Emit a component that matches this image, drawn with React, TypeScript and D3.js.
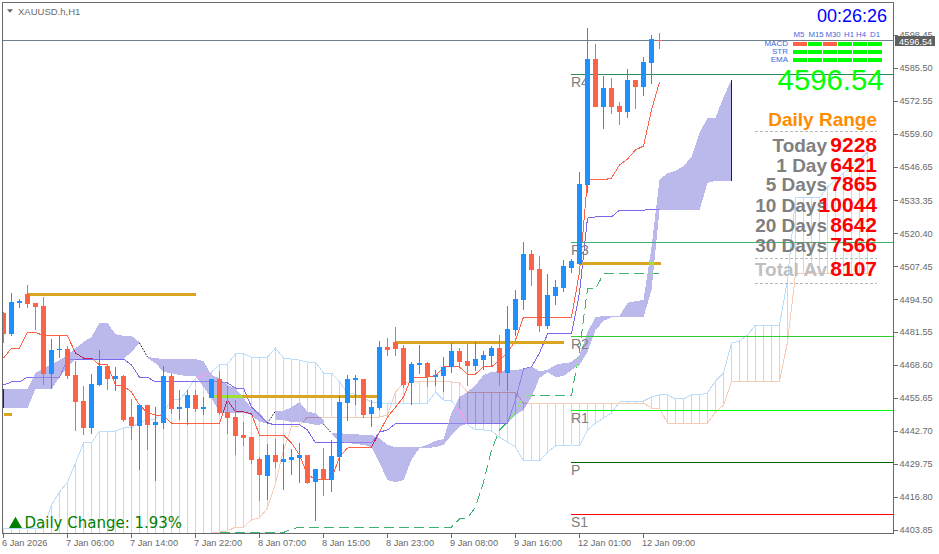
import React, { useEffect, useRef } from 'react';
import * as d3 from 'd3';

const WIDTH = 939;
const HEIGHT = 554;

const opens = [4489.2,4480.9,4493.3,4496.7,4493.3,4492.0,4465.2,4474.7,4475.0,4464.8,4454.6,4444.0,4460.9,4468.4,4463.2,4464.4,4448.3,4444.8,4453.0,4445.2,4445.9,4464.4,4451.5,4451.9,4457.0,4451.5,4455.8,4463.2,4450.3,4448.3,4441.2,4440.4,4431.8,4425.1,4433.4,4430.6,4431.4,4432.2,4433.4,4422.7,4427.8,4423.5,4432.6,4453.8,4462.9,4463.2,4449.5,4451.9,4475.8,4477.8,4475.4,4461.7,4468.8,4469.5,4464.0,4464.4,4468.0,4474.3,4470.3,4468.4,4470.7,4472.3,4475.4,4465.6,4482.5,4494.3,4512.4,4506.5,4484.1,4495.9,4499.0,4506.9,4508.5,4539.6,4589.2,4570.3,4577.8,4570.7,4568.3,4580.9,4578.1,4587.6,4596.8];
const closes = [4480.9,4493.5,4494.0,4492.8,4491.6,4465.2,4474.7,4475.0,4464.4,4454.2,4444.0,4461.3,4468.4,4463.2,4464.4,4447.1,4444.8,4453.0,4445.2,4446.3,4464.4,4451.5,4452.2,4457.0,4451.5,4452.2,4463.2,4449.9,4447.9,4440.8,4440.0,4431.4,4425.5,4433.4,4430.6,4431.8,4432.6,4433.4,4422.3,4427.8,4423.5,4432.9,4454.2,4463.2,4463.6,4449.1,4452.2,4475.8,4474.7,4475.0,4460.9,4469.2,4469.5,4464.0,4464.8,4468.0,4474.3,4469.9,4468.4,4471.1,4472.7,4475.4,4465.6,4482.9,4494.7,4512.4,4506.1,4484.1,4496.3,4499.4,4507.7,4509.7,4540.0,4589.2,4570.3,4577.8,4570.3,4568.3,4580.9,4578.1,4588.0,4597.0,4596.5];
const highs = [4489.6,4497.2,4494.7,4500.4,4493.3,4495.4,4479.0,4480.6,4476.2,4470.3,4460.5,4465.2,4474.7,4468.8,4468.0,4464.8,4455.4,4453.0,4453.0,4452.2,4468.4,4465.6,4458.9,4458.9,4458.9,4456.2,4463.2,4466.4,4460.5,4455.0,4446.3,4440.4,4432.6,4437.7,4439.6,4437.7,4435.7,4438.1,4433.4,4427.8,4436.1,4439.3,4456.6,4464.8,4464.8,4463.2,4455.0,4478.2,4479.4,4483.7,4476.6,4469.9,4476.6,4469.9,4466.8,4471.9,4477.4,4475.4,4477.0,4477.8,4474.3,4476.2,4480.6,4492.0,4498.3,4517.2,4514.0,4511.6,4504.6,4502.2,4510.1,4510.5,4544.7,4601.4,4595.1,4582.5,4581.7,4572.2,4585.2,4580.9,4590.0,4598.6,4599.4];
const lows = [4477.4,4480.2,4491.2,4491.2,4482.5,4460.9,4459.3,4471.5,4463.2,4442.8,4441.2,4441.6,4460.5,4458.9,4458.5,4446.3,4439.3,4427.5,4435.3,4423.1,4443.6,4449.5,4447.1,4445.2,4450.3,4449.1,4455.8,4449.1,4441.6,4433.4,4436.9,4429.8,4415.3,4415.7,4428.2,4419.6,4425.5,4422.3,4421.9,4407.4,4417.2,4418.8,4427.1,4446.7,4453.0,4447.9,4444.4,4451.1,4472.3,4472.3,4459.7,4453.0,4465.2,4460.1,4460.5,4458.1,4465.6,4468.0,4460.5,4466.4,4466.8,4468.4,4460.5,4458.5,4480.2,4490.4,4499.8,4481.7,4482.9,4492.4,4497.5,4505.0,4508.1,4536.4,4570.3,4561.6,4567.5,4563.2,4565.9,4569.5,4574.6,4579.3,4593.1];

const tenkan = [4471.5,4475.4,4475.4,4481.7,4481.7,4480.2,4480.2,4480.2,4480.2,4473.5,4471.5,4471.5,4468.8,4468.8,4460.9,4460.5,4458.1,4453.0,4449.9,4449.1,4448.7,4445.9,4445.9,4445.9,4445.9,4445.9,4445.9,4445.9,4455.0,4450.3,4450.3,4449.5,4441.2,4441.2,4441.2,4441.2,4438.1,4433.4,4425.5,4423.9,4423.9,4423.9,4432.6,4436.1,4436.5,4436.5,4436.5,4442.4,4448.3,4452.2,4456.2,4464.0,4464.0,4464.0,4464.4,4468.0,4468.0,4468.0,4465.2,4465.2,4468.0,4468.0,4470.7,4473.5,4478.6,4487.6,4487.6,4487.6,4487.6,4487.6,4487.6,4487.6,4505.3,4541.6,4541.6,4541.6,4542.3,4547.5,4549.8,4553.4,4554.9,4569.1,4580.1];
const kijun = [4460.9,4462.1,4462.1,4464.0,4464.0,4464.0,4464.0,4464.0,4471.1,4471.1,4471.1,4471.1,4471.1,4471.1,4471.1,4471.1,4468.8,4464.0,4464.0,4462.1,4462.1,4462.1,4462.1,4462.1,4462.1,4462.1,4462.1,4462.1,4461.7,4459.7,4459.7,4452.2,4449.1,4445.9,4445.2,4445.2,4445.2,4445.2,4443.2,4438.1,4438.1,4438.1,4438.1,4438.1,4438.1,4438.1,4438.1,4442.4,4443.2,4445.7,4445.7,4445.7,4445.7,4445.7,4445.7,4445.7,4445.7,4445.7,4445.7,4445.7,4445.7,4445.7,4445.7,4445.7,4455.0,4467.2,4468.0,4473.5,4481.0,4481.0,4481.0,4481.0,4497.1,4526.6,4527.0,4527.0,4527.0,4529.7,4529.7,4529.7,4529.7,4530.1,4530.1];
const senkouA = [4404.6,4404.6,4404.6,4404.6,4404.6,4404.6,4413.7,4418.8,4422.7,4430.2,4438.1,4438.1,4442.8,4442.8,4442.8,4444.0,4444.0,4446.3,4447.1,4447.5,4450.3,4455.0,4455.0,4458.9,4463.6,4464.8,4466.0,4468.8,4469.2,4473.1,4473.1,4471.9,4471.9,4471.9,4475.4,4471.5,4471.1,4470.7,4469.9,4469.9,4465.6,4465.6,4462.1,4457.7,4457.3,4455.8,4454.2,4453.8,4453.8,4453.8,4453.8,4453.8,4453.8,4453.8,4458.1,4455.0,4454.6,4451.1,4445.2,4443.2,4443.2,4442.8,4440.4,4438.5,4436.5,4431.0,4431.0,4431.0,4434.5,4436.9,4436.9,4437.3,4436.9,4443.2,4445.9,4447.9,4449.9,4454.2,4454.6,4454.6,4454.6,4456.2,4457.0,4457.0,4455.4,4455.4,4457.0,4457.0,4457.8,4462.5,4465.6,4477.4,4478.2,4480.6,4484.5,4484.5,4484.5,4484.5,4502.2,4534.5,4534.5,4534.5,4534.5,4538.8,4541.6,4544.3,4546.7,4549.4,4552.6];
const senkouB = [4399.0,4399.0,4399.0,4399.0,4399.0,4399.0,4399.0,4399.0,4399.0,4399.0,4399.0,4399.0,4399.0,4399.0,4399.0,4399.0,4399.0,4399.0,4399.0,4399.0,4399.0,4399.0,4399.0,4399.0,4399.0,4399.0,4403.0,4403.0,4403.5,4405.0,4405.0,4407.8,4408.6,4412.5,4422.3,4435.3,4444.4,4444.8,4448.3,4448.3,4448.3,4448.3,4448.3,4448.3,4448.3,4448.3,4448.3,4448.3,4449.1,4458.1,4461.7,4462.1,4462.1,4462.1,4462.1,4462.1,4462.1,4461.7,4458.1,4458.1,4458.1,4458.1,4458.1,4458.1,4458.1,4453.8,4453.8,4453.8,4453.8,4453.8,4453.8,4453.8,4453.8,4453.8,4453.8,4453.8,4453.8,4453.8,4453.8,4453.8,4453.8,4451.8,4451.8,4445.9,4445.9,4445.9,4445.9,4445.9,4445.9,4450.3,4453.0,4462.1,4462.1,4462.1,4462.1,4462.1,4462.1,4462.1,4477.8,4504.6,4504.6,4504.6,4504.6,4504.6,4504.6,4504.6,4504.6,4504.6,4504.6];
const chikouStart = 27;
const chikou = [4402.9,4402.9,4402.9,4402.9,4402.9,4402.9,4402.9,4402.9,4402.9,4404.2,4405.0,4405.0,4405.0,4405.0,4405.0,4405.0,4405.0,4405.0,4405.0,4405.0,4405.0,4405.0,4405.0,4405.0,4405.0,4405.0,4405.0,4405.0,4405.0,4405.0,4408.2,4408.6,4412.9,4422.7,4435.3,4443.2,4446.3,4450.3,4456.6,4456.6,4456.6,4456.6,4456.6,4456.6,4456.6,4474.7,4498.7,4498.7,4504.6,4504.6,4504.6,4504.6,4504.6,4504.6,4504.6,4504.6];

const bandUpper = [4459.3,4459.3,4459.3,4459.3,4465.6,4467.6,4468.8,4470.7,4472.7,4475.4,4477.8,4479.8,4485.3,4485.3,4480.9,4480.2,4480.2,4477.8,4471.9,4471.5,4471.1,4471.1,4471.1,4471.1,4471.1,4470.3,4464.8,4463.6,4460.9,4459.7,4455.8,4451.8,4449.9,4446.3,4450.7,4450.7,4452.2,4454.2,4450.3,4449.9,4447.1,4442.0,4442.0,4441.6,4441.6,4441.2,4441.2,4440.0,4437.3,4436.5,4436.5,4436.5,4436.5,4437.3,4438.9,4439.6,4449.9,4456.2,4458.1,4460.9,4464.8,4466.0,4466.4,4466.8,4466.8,4467.2,4468.0,4466.4,4466.8,4468.8,4469.5,4469.9,4472.7,4481.7,4487.6,4488.0,4488.0,4488.0,4493.2,4493.9,4494.3,4515.2,4541.6,4544.3,4545.1,4547.1,4550.6,4560.0,4566.0,4566.0,4574.2,4580.9];
const bandLower = [4451.8,4451.8,4451.8,4451.8,4459.3,4459.3,4459.3,4464.0,4468.0,4471.1,4471.1,4471.1,4471.1,4471.1,4471.1,4471.1,4473.9,4477.4,4471.5,4469.5,4466.0,4465.6,4464.8,4464.4,4464.4,4460.1,4455.8,4449.9,4449.9,4449.9,4449.9,4449.1,4446.3,4445.9,4447.1,4447.1,4446.3,4446.3,4445.9,4445.2,4445.5,4441.6,4438.5,4438.1,4437.7,4437.3,4436.5,4430.2,4423.5,4422.7,4423.5,4431.4,4436.1,4436.1,4436.5,4437.3,4441.2,4444.4,4445.9,4445.9,4445.9,4445.9,4445.9,4445.9,4449.1,4451.1,4456.2,4463.6,4466.0,4464.0,4464.4,4466.8,4468.8,4473.9,4482.5,4486.1,4487.6,4487.6,4487.6,4487.6,4487.6,4498.3,4529.7,4529.7,4529.7,4529.7,4529.7,4529.7,4540.4,4541.2,4541.2,4541.2];
// bar where the band pinches and restarts on the next bar
const bandBreaks = [17, 33, 40];

const goldFrom = [3, 0, 26, 49, 72];
const goldTo = [24.1, 1, 47, 70, 82.2];
const goldPrice = [4496.6, 4449.1, 4456.2, 4477.7, 4508.9];

const pivotNames = ['R4', 'R3', 'R2', 'R1', 'P', 'S1'];
const pivotPrices = [4583.1, 4517.0, 4480.0, 4450.9, 4430.5, 4410.0];
const pivotColors = ['#2e8b57', '#3cb371', '#32cd32', '#00ff00', '#006400', '#ff0000'];

const yTicks = [4598.45,4585.50,4572.55,4559.60,4546.65,4533.35,4520.40,4507.45,4494.50,4481.55,4468.60,4455.65,4442.70,4429.75,4416.80,4403.85];
const xTickBars = [0, 8, 16, 24, 32, 40, 48, 56, 64, 72, 80];
const xTickLabels = ['6 Jan 2026','7 Jan 06:00','7 Jan 14:00','7 Jan 22:00','8 Jan 07:00','8 Jan 15:00','8 Jan 23:00','9 Jan 08:00','9 Jan 16:00','12 Jan 01:00','12 Jan 09:00'];

const frames = ['M5', 'M15', 'M30', 'H1', 'H4', 'D1'];
const frameLabelX = [799, 816, 833, 849, 861, 875];
const signalNames = ['MACD', 'STR', 'EMA'];
const signalUp = [
  [false, true, false, true, true, true],
  [true, true, true, true, true, true],
  [true, true, true, true, true, true],
];

const rangeNames = ['Today', '1 Day', '5 Days', '10 Days', '20 Days', '30 Days'];
const rangeValues = [9228, 6421, 7865, 10044, 8642, 7566];

const BULL = '#1e90ff';
const BEAR = '#ff6347';
const SANS = '"Liberation Sans", Arial, sans-serif';

// the band is painted in XOR mode on the terminal, so anything under it flips colour
const xorKey = [0x44, 0x46, 0x14];
const flip = (c: string) => {
  if (c === '#7b68ee') return '#8d83e8'; // kijun barely shows through
  const r = d3.rgb(c);
  return d3.rgb(r.r ^ xorKey[0], r.g ^ xorKey[1], r.b ^ xorKey[2]).formatHex();
};

const App: React.FC = () => {
  const svgRef = useRef<SVGSVGElement | null>(null);

  useEffect(() => {
    const svg = d3.select(svgRef.current);
    svg.selectAll('*').remove();

    const x = d3.scaleLinear().domain([0, 82]).range([3.5, 659.5]);
    const y = d3.scaleLinear().domain([4403.85, 4598.45]).range([530, 35.4]);

    svg.append('rect').attr('width', WIDTH).attr('height', HEIGHT).attr('fill', 'white');

    const defs = svg.append('defs');
    defs.append('clipPath').attr('id', 'plot')
      .append('rect').attr('x', 3).attr('y', 3).attr('width', 890).attr('height', 530);

    const plot = svg.append('g').attr('clip-path', 'url(#plot)');

    const lineOf = (start = 0) => d3.line<number>()
      .x((_, i) => x(i + start))
      .y(d => y(d));

    function drawIchimoku(g: any, color: (c: string) => string) {
      const hatch = g.append('g').attr('shape-rendering', 'crispEdges');
      senkouA.forEach((a, i) => {
        hatch.append('line')
          .attr('x1', x(i)).attr('x2', x(i))
          .attr('y1', y(a)).attr('y2', y(senkouB[i]))
          .attr('stroke', color(a >= senkouB[i] ? '#bbdcfb' : '#f5cdb8'));
      });
      const series: [number[], string, number, string | null][] = [
        [senkouA, '#bbdcfb', 0, null],
        [senkouB, '#f5cdb8', 0, null],
        [tenkan, '#ff6347', 0, null],
        [kijun, '#7b68ee', 0, null],
        [chikou, '#3cb371', chikouStart, '10 5'],
      ];
      series.forEach(([values, stroke, start, dash]) => {
        g.append('path')
          .attr('d', lineOf(start)(values))
          .attr('fill', 'none')
          .attr('stroke', color(stroke))
          .attr('stroke-dasharray', dash)
          .attr('shape-rendering', 'crispEdges');
      });
      goldPrice.forEach((p, i) => {
        g.append('line')
          .attr('x1', x(goldFrom[i])).attr('x2', x(goldTo[i]))
          .attr('y1', y(p)).attr('y2', y(p))
          .attr('stroke', color('#daa520'))
          .attr('stroke-width', 3)
          .attr('shape-rendering', 'crispEdges');
      });
    }

    drawIchimoku(plot.append('g'), c => c);

    // cloud band, one piece between each pair of pinches
    const bandArea = d3.area<number>()
      .x(i => x(i))
      .y0(i => y(bandLower[i]))
      .y1(i => y(bandUpper[i]));
    const edges = [-1, ...bandBreaks, bandUpper.length - 1];
    const bandClip = defs.append('clipPath').attr('id', 'band');
    d3.pairs(edges).forEach(([a, b]) => {
      const bars = d3.range(a + 1, b + 1);
      plot.append('path').attr('d', bandArea(bars)).attr('fill', '#bbb9eb').attr('shape-rendering', 'crispEdges');
      bandClip.append('path').attr('d', bandArea(bars));
    });
    drawIchimoku(plot.append('g').attr('clip-path', 'url(#band)'), flip);

    bandBreaks.forEach(i => {
      plot.append('line')
        .attr('x1', x(i)).attr('x2', x(i + 1))
        .attr('y1', y(bandLower[i])).attr('y2', y(bandUpper[i + 1]))
        .attr('stroke', '#000').attr('stroke-dasharray', '1.5 1.5');
    });
    [0, bandUpper.length - 1].forEach(i => {
      plot.append('line')
        .attr('x1', x(i)).attr('x2', x(i))
        .attr('y1', y(bandLower[i])).attr('y2', y(bandUpper[i]))
        .attr('stroke', '#2a2418').attr('shape-rendering', 'crispEdges');
    });

    // pivots
    const pivotLeft = x(71) - 0.5;
    pivotPrices.forEach((p, i) => {
      plot.append('line')
        .attr('x1', pivotLeft).attr('x2', 893)
        .attr('y1', y(p)).attr('y2', y(p))
        .attr('stroke', pivotColors[i]).attr('shape-rendering', 'crispEdges');
      plot.append('text')
        .attr('x', pivotLeft).attr('y', y(p) + 13)
        .attr('font-family', SANS).attr('font-size', 14)
        .attr('fill', '#808080').text(pivotNames[i]);
    });

    // bid line
    const bid = 4596.54;
    plot.append('line')
      .attr('x1', 3).attr('x2', 893).attr('y1', y(bid)).attr('y2', y(bid))
      .attr('stroke', '#708090').attr('shape-rendering', 'crispEdges');

    // candles
    const candles = plot.append('g').attr('shape-rendering', 'crispEdges');
    opens.forEach((o, i) => {
      const c = closes[i];
      const color = c >= o ? BULL : BEAR;
      candles.append('line')
        .attr('x1', x(i)).attr('x2', x(i))
        .attr('y1', y(highs[i])).attr('y2', y(lows[i]))
        .attr('stroke', color);
      candles.append('rect')
        .attr('x', x(i) - 2.5).attr('width', 5)
        .attr('y', y(Math.max(o, c)))
        .attr('height', Math.max(1, Math.abs(y(o) - y(c))))
        .attr('fill', color);
    });

    // daily change note
    svg.append('path')
      .attr('d', d3.symbol(d3.symbolTriangle, 73)())
      .attr('transform', 'translate(15.5,524.2)')
      .attr('fill', '#008000');
    svg.append('text')
      .attr('x', 24.5).attr('y', 528)
      .attr('font-family', '"DejaVu Sans", sans-serif').attr('font-size', 15)
      .attr('fill', '#008000')
      .text('Daily Change: 1.93%');

    // title
    svg.append('path')
      .attr('d', d3.symbol(d3.symbolTriangle, 20)())
      .attr('transform', 'translate(10,10.5) rotate(180) scale(0.9,0.6)')
      .attr('fill', '#696969');
    svg.append('text')
      .attr('x', 18).attr('y', 14.5)
      .attr('font-family', SANS).attr('font-size', 9.5)
      .attr('fill', '#696969').text('XAUUSD.h,H1');

    // timeframe panel
    svg.append('text')
      .attr('x', 887).attr('y', 21.5).attr('text-anchor', 'end')
      .attr('font-family', SANS).attr('font-size', 18)
      .attr('fill', '#0000ff').text('00:26:26');

    const cellX = d3.scaleBand<string>().domain(frames).range([793, 883]);
    frames.forEach((f, i) => {
      svg.append('text')
        .attr('x', frameLabelX[i]).attr('y', 36.5)
        .attr('text-anchor', 'middle')
        .attr('font-family', SANS).attr('font-size', 7.8)
        .attr('fill', '#4169e1').text(f);
    });
    const rowY = d3.scalePoint<string>().domain(signalNames).range([42, 58]);
    signalNames.forEach((name, r) => {
      svg.append('text')
        .attr('x', 788).attr('y', rowY(name)! + 4)
        .attr('text-anchor', 'end')
        .attr('font-family', SANS).attr('font-size', 8)
        .attr('fill', '#4169e1').text(name);
      frames.forEach((f, c) => {
        svg.append('rect')
          .attr('x', cellX(f)!).attr('y', rowY(name)!)
          .attr('width', cellX.bandwidth() - 1.5).attr('height', 4)
          .attr('fill', signalUp[r][c] ? '#00ff00' : BEAR)
          .attr('shape-rendering', 'crispEdges');
      });
    });

    svg.append('text')
      .attr('x', 883.5).attr('y', 90).attr('text-anchor', 'end')
      .attr('font-family', SANS).attr('font-size', 29.3)
      .attr('fill', '#00ff00').text(bid.toFixed(2));

    svg.append('text')
      .attr('x', 877).attr('y', 126).attr('text-anchor', 'end')
      .attr('font-family', SANS).attr('font-size', 19).attr('font-weight', 'bold')
      .attr('fill', '#ff8c00').text('Daily Range');

    [131.5, 258.5, 283.5].forEach(ly => {
      svg.append('line')
        .attr('x1', 755).attr('x2', 877).attr('y1', ly).attr('y2', ly)
        .attr('stroke', '#b8b8b8').attr('stroke-dasharray', '3 2')
        .attr('shape-rendering', 'crispEdges');
    });

    const rangeBase = [152, 172, 191, 212, 232, 252];
    const label = (text: string, base: number, fill: string) => svg.append('text')
      .attr('x', 827).attr('y', base).attr('text-anchor', 'end')
      .attr('font-family', SANS).attr('font-size', 19).attr('font-weight', 'bold')
      .attr('fill', fill).text(text);
    const value = (v: number, base: number) => svg.append('text')
      .attr('x', 877).attr('y', base).attr('text-anchor', 'end')
      .attr('font-family', SANS).attr('font-size', 21).attr('font-weight', 'bold')
      .attr('fill', '#ff0000').text(String(v));
    rangeNames.forEach((n, i) => {
      label(n, rangeBase[i], '#808080');
      value(rangeValues[i], rangeBase[i]);
    });
    label('Total Av', 276, '#c0c0c0');
    value(8107, 276);

    // axes
    const axisX = d3.axisBottom(x)
      .tickValues(xTickBars)
      .tickFormat((_, i) => xTickLabels[i])
      .tickSize(4).tickPadding(2).offset(0);
    const gx = svg.append('g').attr('transform', 'translate(0,533.5)').call(axisX as any);
    gx.select('.domain').remove();
    gx.selectAll('line').attr('stroke', '#696969').attr('shape-rendering', 'crispEdges');
    gx.selectAll('text')
      .attr('text-anchor', 'start').attr('x', -1.5)
      .attr('font-family', SANS).attr('font-size', 9.2).attr('fill', '#696969');

    const axisY = d3.axisRight(y)
      .tickValues(yTicks)
      .tickFormat(d => (d as number).toFixed(2))
      .tickSize(4).tickPadding(2).offset(0);
    const gy = svg.append('g').attr('transform', 'translate(893.5,0)').call(axisY as any);
    gy.select('.domain').remove();
    gy.selectAll('line').attr('stroke', '#696969').attr('shape-rendering', 'crispEdges');
    gy.selectAll('text')
      .attr('font-family', SANS).attr('font-size', 9.2).attr('fill', '#696969');

    // current price tag
    svg.append('rect')
      .attr('x', 895).attr('y', 36).attr('width', 40).attr('height', 9.5)
      .attr('fill', '#606060').attr('shape-rendering', 'crispEdges');
    svg.append('text')
      .attr('x', 899).attr('y', 44.5)
      .attr('font-family', SANS).attr('font-size', 9.2)
      .attr('fill', '#fff').text('4596.54');

    svg.append('rect')
      .attr('x', 2.5).attr('y', 2.5).attr('width', 891).attr('height', 531)
      .attr('fill', 'none').attr('stroke', '#696969').attr('shape-rendering', 'crispEdges');
  }, []);

  return (
    <svg
      ref={svgRef}
      width={WIDTH}
      height={HEIGHT}
      style={{ position: 'absolute', left: 0, top: 0 }}
    />
  );
};

export default App;
